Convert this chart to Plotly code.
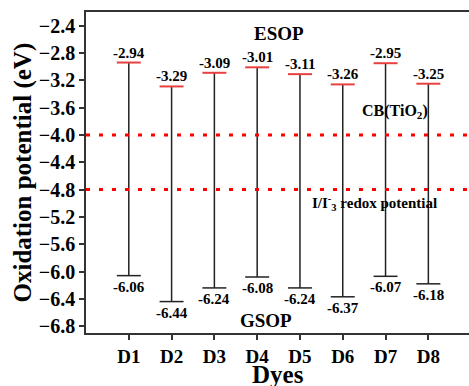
import plotly.graph_objects as go

dyes = ["D1", "D2", "D3", "D4", "D5", "D6", "D7", "D8"]
esop = [-2.94, -3.29, -3.09, -3.01, -3.11, -3.26, -2.95, -3.25]
gsop = [-6.06, -6.44, -6.24, -6.08, -6.24, -6.37, -6.07, -6.18]
cb_tio2 = -4.0
redox = -4.8
ytick_vals = [-2.4, -2.8, -3.2, -3.6, -4.0, -4.4, -4.8, -5.2, -5.6, -6.0, -6.4, -6.8]

FONT = "Liberation Serif, Times New Roman, serif"
xs = list(range(1, len(dyes) + 1))
half = 0.28

fig = go.Figure()

for i, x in enumerate(xs):
    fig.add_trace(go.Scatter(x=[x, x], y=[gsop[i], esop[i]], mode="lines",
                             line=dict(color="#222222", width=1.5), showlegend=False, hoverinfo="skip"))
    fig.add_trace(go.Scatter(x=[x - half, x + half], y=[esop[i], esop[i]], mode="lines",
                             line=dict(color="#e8403f", width=2), showlegend=False, hoverinfo="skip"))
    fig.add_trace(go.Scatter(x=[x - half, x + half], y=[gsop[i], gsop[i]], mode="lines",
                             line=dict(color="#222222", width=1.5), showlegend=False, hoverinfo="skip"))
    fig.add_annotation(x=x, y=esop[i], text=f"<b>{esop[i]:.2f}</b>", showarrow=False,
                       yanchor="bottom", yshift=0,
                       font=dict(family=FONT, size=15, color="black"))
    fig.add_annotation(x=x, y=gsop[i], text=f"<b>{gsop[i]:.2f}</b>", showarrow=False,
                       yanchor="top", yshift=-1,
                       font=dict(family=FONT, size=15, color="black"))

for yv in [cb_tio2, redox]:
    fig.add_trace(go.Scatter(x=[0, 9], y=[yv, yv], mode="lines",
                             line=dict(color="#ff0000", width=3, dash="4px,9px"),
                             showlegend=False, hoverinfo="skip"))

fig.add_annotation(x=4.5, y=-2.52, text="<b>ESOP</b>", showarrow=False,
                   font=dict(family=FONT, size=19, color="black"))
fig.add_annotation(x=4.2, y=-6.72, text="<b>GSOP</b>", showarrow=False,
                   font=dict(family=FONT, size=19, color="black"))
fig.add_annotation(x=7.22, y=cb_tio2, yshift=23, text="<b>CB(TiO<sub>2</sub>)</b>", showarrow=False,
                   font=dict(family=FONT, size=16, color="black"))
fig.add_annotation(x=6.73, y=redox, yshift=-13,
                   text="<b>I/I<sup>-</sup><sub>3</sub> redox potential</b>", showarrow=False,
                   font=dict(family=FONT, size=15, color="black"))

# axis titles
fig.add_annotation(xref="paper", yref="paper", x=0.5, y=0, yshift=-41, yanchor="middle",
                   text="<b>Dyes</b>", showarrow=False,
                   font=dict(family=FONT, size=25, color="black"))
fig.add_annotation(xref="paper", yref="paper", x=0, xshift=-64, y=0.5, textangle=-90,
                   xanchor="center", text="<b>Oxidation potential (eV)</b>", showarrow=False,
                   font=dict(family=FONT, size=25, color="black"))

fig.update_layout(
    width=469, height=386,
    margin=dict(l=86, r=0, t=12, b=53),
    plot_bgcolor="white", paper_bgcolor="white",
    showlegend=False,
)
fig.update_xaxes(range=[0, 8.95], tickvals=xs, ticktext=[f"<b>{d}</b>" for d in dyes],
                 showgrid=False, zeroline=False,
                 showline=True, linecolor="#333333", linewidth=1.5, mirror=True,
                 ticks="outside", ticklen=5, tickwidth=1.5, tickcolor="#333333",
                 tickfont=dict(family=FONT, size=19, color="black"))
fig.update_yaxes(range=[-6.9, -2.2], tickvals=ytick_vals,
                 ticktext=[f"<b>\u2212{abs(v):.1f}</b>" for v in ytick_vals],
                 showgrid=False, zeroline=False,
                 showline=True, linecolor="#333333", linewidth=1.5,
                 ticks="outside", ticklen=5, tickwidth=1.5, tickcolor="#333333",
                 tickfont=dict(family=FONT, size=20, color="black"))

fig.write_html("out.html")
